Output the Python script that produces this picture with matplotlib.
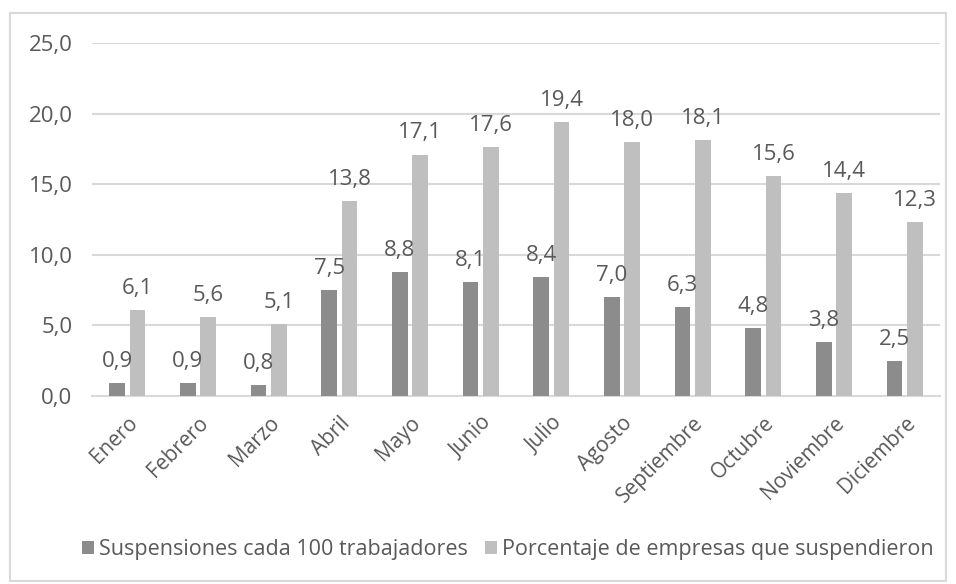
import matplotlib
matplotlib.use("Agg")
import matplotlib.pyplot as plt
import numpy as np
from matplotlib.patches import Rectangle

months = ["Enero", "Febrero", "Marzo", "Abril", "Mayo", "Junio", "Julio",
          "Agosto", "Septiembre", "Octubre", "Noviembre", "Diciembre"]
suspensiones = [0.9, 0.9, 0.8, 7.5, 8.8, 8.1, 8.4, 7.0, 6.3, 4.8, 3.8, 2.5]
porcentaje = [6.1, 5.6, 5.1, 13.8, 17.1, 17.6, 19.4, 18.0, 18.1, 15.6, 14.4, 12.3]
yticks = [0, 5, 10, 15, 20, 25]
series_names = ["Suspensiones cada 100 trabajadores",
                "Porcentaje de empresas que suspendieron"]

plt.rcParams['font.family'] = ['Open Sans', 'DejaVu Sans']
TXT = "#595959"
DARK = "#8c8c8c"
LIGHT = "#bfbfbf"
GRID = "#d9d9d9"

fig = plt.figure(figsize=(9.56, 5.84), dpi=100)
fig.patches.append(Rectangle((10/956, 3/584), 936/956, 568/584, transform=fig.transFigure,
                             fill=False, edgecolor=GRID, linewidth=1.5, zorder=0))
ax = fig.add_axes([92/956, 1 - 396/584, 848/956, 353/584])

x = np.arange(len(months))
w = 0.22
off = 0.145
b1 = ax.bar(x - off, suspensiones, w, color=DARK, label=series_names[0], zorder=3)
b2 = ax.bar(x + off, porcentaje, w, color=LIGHT, label=series_names[1], zorder=3)

def fmt(v):
    return f"{v:.1f}".replace(".", ",")

for xs, vals in ((x - off, suspensiones), (x + off, porcentaje)):
    for xi, v in zip(xs, vals):
        ax.annotate(fmt(v), (xi, v), xytext=(0, 8), textcoords="offset points",
                    ha="center", va="bottom", fontsize=16, color=TXT)

ax.set_xlim(-0.5, len(months) - 0.5)
ax.set_ylim(0, 25)
ax.set_yticks(yticks)
ax.set_yticklabels([fmt(v) for v in yticks], fontsize=16, color=TXT)
ax.set_xticks(x)
ax.set_xticklabels(months, rotation=45, ha="right", rotation_mode="anchor",
                   fontsize=15, color=TXT)
ax.tick_params(axis="both", length=0)
ax.tick_params(axis="y", pad=14)
ax.tick_params(axis="x", pad=12)
ax.yaxis.grid(True, color=GRID, linewidth=1.5, zorder=0)
for s in ("top", "right", "left"):
    ax.spines[s].set_visible(False)
ax.spines["bottom"].set_color(GRID)
ax.spines["bottom"].set_linewidth(1.5)

fig.legend(handles=[b1, b2], labels=series_names, loc="center",
           bbox_to_anchor=(508/956, 1 - 550/584), ncol=2, frameon=False,
           fontsize=15.5, labelcolor=TXT, handlelength=0.55, handleheight=0.55,
           handletextpad=0.25, columnspacing=0.8)

fig.savefig("out.png", dpi=100)
